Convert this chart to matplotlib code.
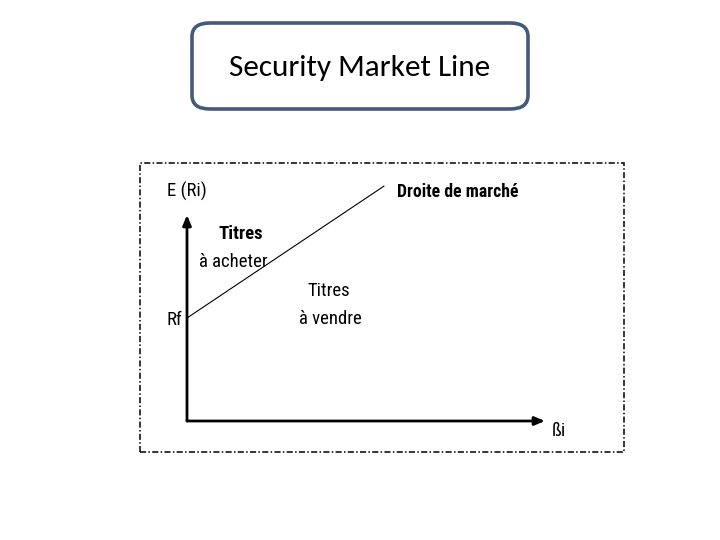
import matplotlib
matplotlib.use("Agg")
import matplotlib.pyplot as plt
from matplotlib.patches import FancyBboxPatch, Rectangle

title = "Security Market Line"
y_label = "E (Ri)"
x_label = "ßi"
rf_label = "Rf"
line_label = "Droite de marché"
buy_label = ("Titres", "à acheter")
sell_label = ("Titres", "à vendre")

# SML: beta and expected return
beta = [0.0, 1.1]
expected_return = [5.0, 11.4]
x_max, y_max = 2.0, 10.0

narrow = ["Roboto Condensed", "DejaVu Sans"]

W, H = 720, 540
fig = plt.figure(figsize=(7.2, 5.4), dpi=100)
fig.patch.set_facecolor("white")

def fx(px):
    return px / W

def fy(py):
    return 1 - py / H

# title box
box = FancyBboxPatch((fx(192), fy(109)), fx(528) - fx(192), fy(23) - fy(109),
                     boxstyle="round,pad=0,rounding_size=0.025",
                     transform=fig.transFigure, facecolor="white",
                     edgecolor="#435a7a", linewidth=2.6)
fig.patches.append(box)
fig.text(fx(359.5), fy(68), title, ha="center", va="center", fontsize=22.5,
         family=["Carlito", "DejaVu Sans"], color="black")

# dash-dot frame
frame = Rectangle((fx(140), fy(452)), fx(624) - fx(140), fy(163) - fy(452),
                  transform=fig.transFigure, fill=False, edgecolor="black",
                  linewidth=1.1, linestyle=(0, (4, 1.5, 1, 1.5)))
fig.patches.append(frame)

# main axes: origin at (187, 421) px
ax = fig.add_axes([fx(187), fy(421), fx(545) - fx(187), fy(215) - fy(421)])
ax.set_xlim(0, x_max)
ax.set_ylim(0, y_max)
ax.axis("off")
ax.patch.set_alpha(0)

ax.plot(beta, expected_return, color="black", linewidth=0.8, clip_on=False)

ax.annotate("", xy=(x_max, 0), xytext=(0, 0),
            arrowprops=dict(arrowstyle="-|>,head_length=0.6,head_width=0.25",
                            color="black", lw=2, shrinkA=0, shrinkB=0),
            annotation_clip=False)
ax.annotate("", xy=(0, y_max), xytext=(0, 0),
            arrowprops=dict(arrowstyle="-|>,head_length=0.6,head_width=0.25",
                            color="black", lw=2, shrinkA=0, shrinkB=0),
            annotation_clip=False)

fs = 13.5
fig.text(fx(167), fy(191), y_label, ha="left", va="center", fontsize=fs,
         family=narrow)
fig.text(fx(166), fy(320), rf_label, ha="left", va="center", fontsize=fs,
         family=narrow)
fig.text(fx(397), fy(192), line_label, ha="left", va="center", fontsize=12.8,
         family=narrow, fontweight="bold")
fig.text(fx(241), fy(234), buy_label[0], ha="center", va="center", fontsize=fs,
         family=narrow, fontweight="bold")
fig.text(fx(233), fy(262), buy_label[1], ha="center", va="center", fontsize=fs,
         family=narrow)
fig.text(fx(329), fy(291), sell_label[0], ha="center", va="center", fontsize=fs,
         family=narrow)
fig.text(fx(330), fy(319), sell_label[1], ha="center", va="center", fontsize=fs,
         family=narrow)
fig.text(fx(552), fy(431), x_label, ha="left", va="center", fontsize=fs,
         family=narrow)

fig.savefig("out.png", dpi=100, facecolor="white")
